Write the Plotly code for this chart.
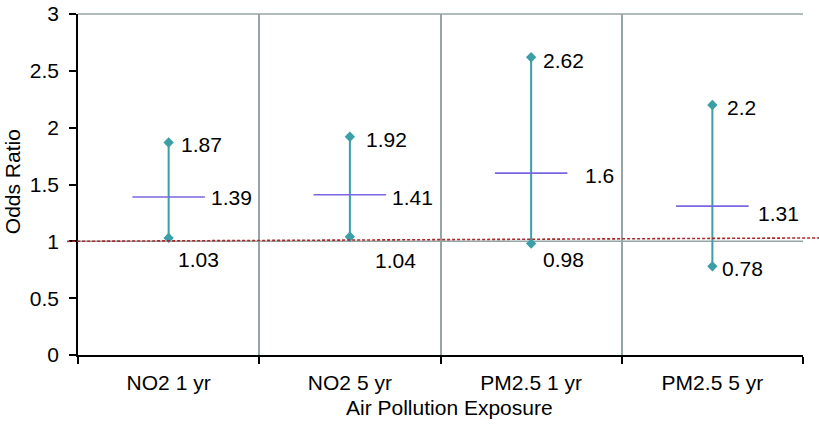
import plotly.graph_objects as go

categories = ["NO2 1 yr", "NO2 5 yr", "PM2.5 1 yr", "PM2.5 5 yr"]
odds_ratio = [1.39, 1.41, 1.6, 1.31]
ci_lower = [1.03, 1.04, 0.98, 0.78]
ci_upper = [1.87, 1.92, 2.62, 2.2]
ref_line_y = [1.0, 1.03]   # slightly tilted dotted reference line (start, end)
y_ticks = [0, 0.5, 1, 1.5, 2, 2.5, 3]

# label placement (pixels): (xshift, yshift)
upper_off = [(10, -2), (14, -3), (10, -3), (13, -3)]
mid_off = [(40, 0), (40, -3), (52, -2), (44, -7)]
lower_off = [(7, -22), (23, -24), (10, -16), (8, -2)]

TEAL = "#3b9fa7"
PURPLE = "#7a66e0"
GRID = "#95a5a6"
FONT = "Liberation Sans, Arial, sans-serif"
FS = 21

fig = go.Figure()
xs = list(range(len(categories)))
half = 0.2

for i, c in enumerate(categories):
    fig.add_trace(go.Scatter(
        x=[xs[i], xs[i]], y=[ci_lower[i], ci_upper[i]],
        mode="lines+markers",
        line=dict(color=TEAL, width=2),
        marker=dict(symbol="diamond", size=8, color=TEAL),
        showlegend=False, hoverinfo="skip"))
    fig.add_trace(go.Scatter(
        x=[xs[i] - half, xs[i] + half], y=[odds_ratio[i], odds_ratio[i]],
        mode="lines", line=dict(color=PURPLE, width=1.6),
        showlegend=False, hoverinfo="skip"))

annotations = []
for i in range(len(categories)):
    for val, off in [(ci_upper[i], upper_off[i]),
                     (odds_ratio[i], mid_off[i]),
                     (ci_lower[i], lower_off[i])]:
        annotations.append(dict(x=xs[i], y=val, text=f"{val:g}",
                                xanchor="left", yanchor="middle", showarrow=False,
                                xshift=off[0], yshift=off[1],
                                font=dict(family=FONT, size=FS, color="black")))

# axis titles
annotations.append(dict(text="Air Pollution Exposure", xref="paper", yref="paper",
                        x=0.513, y=-0.155, xanchor="center", yanchor="middle",
                        showarrow=False, font=dict(family=FONT, size=FS)))
annotations.append(dict(text="Odds Ratio", xref="paper", yref="paper",
                        x=-0.0905, y=0.508, xanchor="center", yanchor="middle",
                        textangle=-90, showarrow=False, font=dict(family=FONT, size=FS)))

shapes = [
    dict(type="line", xref="paper", yref="y", x0=0, x1=1, y0=1, y1=1,
         line=dict(color=GRID, width=1.5), layer="below"),
    dict(type="line", xref="paper", yref="paper", x0=0, x1=1, y0=1, y1=1,
         line=dict(color=GRID, width=1.5)),
    dict(type="line", xref="paper", yref="y", x0=-0.015, x1=1.022,
         y0=ref_line_y[0], y1=ref_line_y[1],
         line=dict(color="#a82828", width=1.6, dash="3px,2px")),
]

boundaries = [x - 0.5 for x in xs] + [xs[-1] + 0.5]

fig.update_layout(
    width=819, height=426,
    margin=dict(l=78, r=16, t=14, b=71, autoexpand=False),
    paper_bgcolor="white", plot_bgcolor="white",
    font=dict(family=FONT, size=FS, color="black"),
    showlegend=False,
    annotations=annotations,
    shapes=shapes,
    xaxis=dict(
        range=[-0.5, len(categories) - 0.5],
        tickvals=xs, ticktext=categories, ticks="",
        showgrid=False, zeroline=False, automargin=False,
        showline=True, linecolor="black", linewidth=1.5,
        tickfont=dict(family=FONT, size=FS),
        ticklabelstandoff=8,
        minor=dict(tickvals=boundaries, ticks="outside", ticklen=7,
                   tickcolor="black", tickwidth=1.5,
                   showgrid=True, gridcolor=GRID, gridwidth=1.5),
    ),
    yaxis=dict(
        range=[0, 3], tickvals=y_ticks, ticktext=[f"{v:g}" for v in y_ticks],
        ticks="outside", ticklen=7, tickcolor="black", tickwidth=1.5,
        showgrid=False, zeroline=False, automargin=False,
        showline=True, linecolor="black", linewidth=1.5,
        tickfont=dict(family=FONT, size=FS),
        ticklabelstandoff=6,
    ),
)

fig.write_html("out.html", config={"displayModeBar": False},
               post_script="document.body.style.margin='0';")
